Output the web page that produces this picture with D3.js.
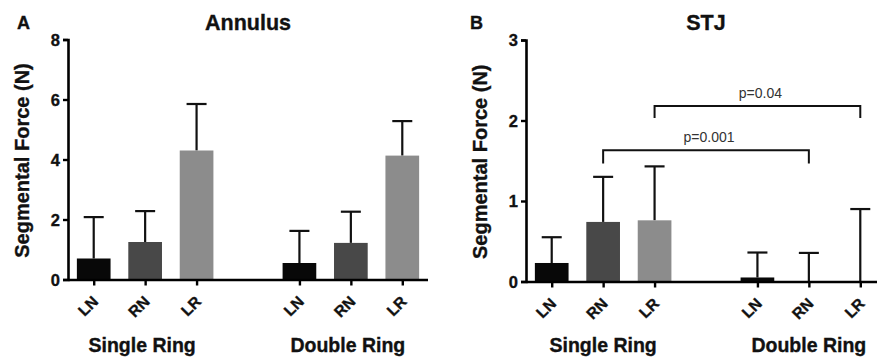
<!DOCTYPE html>
<html>
<head>
<meta charset="utf-8">
<script src="https://cdn.jsdelivr.net/npm/d3@7"></script>
<style>
  html, body { margin: 0; padding: 0; background: #fff; }
  svg text { font-family: "Liberation Sans", Arial, Helvetica, sans-serif; }
  svg text.heavy { stroke: #111; stroke-width: 0.35px; }
</style>
</head>
<body>
<svg id="chart" width="877" height="362"></svg>
<script>
// ---- data ----
const categories = ["LN", "RN", "LR"];
const groups = ["Single Ring", "Double Ring"];
const barColors = ["#080808", "#484848", "#8c8c8c"];

const annulusMean = [0.70, 1.25, 4.30, 0.55, 1.22, 4.13];
const annulusErr  = [1.38, 1.03, 1.55, 1.07, 1.04, 1.15];
const annulusTicks = [0, 2, 4, 6, 8];

const stjMean = [0.23, 0.74, 0.76, 0.05, 0.0, 0.0];
const stjErr  = [0.32, 0.56, 0.67, 0.31, 0.355, 0.90];
const stjTicks = [0, 1, 2, 3];

const stjBrackets = [
  { from: 1, to: 4, level: 1.63, drop: 0.165, label: "p=0.001" },
  { from: 2, to: 5, level: 2.18, drop: 0.15,  label: "p=0.04" }
];

const yTitle = "Segmental Force (N)";

// ---- drawing ----
const svg = d3.select("#chart");

function drawPanel(cfg) {
  const g = svg.append("g");
  const slots = [];
  groups.forEach((gr, gi) => {
    categories.forEach(c => slots.push(gr + "|" + c));
    if (gi === 0) slots.push("gap");
  });
  const x = d3.scalePoint().domain(slots).range([cfg.x0, cfg.x0 + 360]).padding(0.5);
  const y = d3.scaleLinear().domain([0, cfg.ticks[cfg.ticks.length - 1]]).range([cfg.yBottom, cfg.yTop]);
  const barW = x.step() * 0.655;

  const bars = [];
  groups.forEach((gr, gi) => categories.forEach((c, ci) => {
    const i = gi * 3 + ci;
    bars.push({ key: gr + "|" + c, cat: c, ci, mean: cfg.mean[i], err: cfg.err[i] });
  }));

  const capW = 20;
  g.selectAll("line.err").data(bars).join("line")
    .attr("x1", d => x(d.key)).attr("x2", d => x(d.key))
    .attr("y1", d => y(d.mean)).attr("y2", d => y(d.mean + d.err))
    .attr("stroke", "#111").attr("stroke-width", 2.2);
  g.selectAll("line.cap").data(bars).join("line")
    .attr("x1", d => x(d.key) - capW / 2).attr("x2", d => x(d.key) + capW / 2)
    .attr("y1", d => y(d.mean + d.err)).attr("y2", d => y(d.mean + d.err))
    .attr("stroke", "#111").attr("stroke-width", 2.2);

  g.selectAll("rect.bar").data(bars).join("rect")
    .attr("x", d => x(d.key) - barW / 2)
    .attr("width", barW)
    .attr("y", d => y(d.mean))
    .attr("height", d => y(0) - y(d.mean))
    .attr("fill", d => barColors[d.ci]);

  // y axis
  const yAxis = d3.axisLeft(y).tickValues(cfg.ticks).tickSize(5).tickPadding(3).tickFormat(d3.format("d"));
  const ya = g.append("g").attr("transform", `translate(${cfg.x0},0)`).call(yAxis);
  ya.select(".domain").attr("stroke", "#000").attr("stroke-width", 2.6);
  ya.selectAll(".tick line").attr("stroke", "#000").attr("stroke-width", 2.4);
  ya.selectAll(".tick text").attr("class", "heavy").attr("fill", "#111")
    .attr("font-size", 16.5).attr("font-weight", "bold").attr("dy", "0.36em");

  // x axis
  const xAxis = d3.axisBottom(x).tickValues(bars.map(b => b.key)).tickSize(6).tickSizeOuter(0)
    .tickFormat(k => k.split("|")[1]);
  const xa = g.append("g").attr("transform", `translate(0,${cfg.yBottom})`).call(xAxis);
  xa.select(".domain").attr("stroke", "#000").attr("stroke-width", 2.6)
    .attr("d", `M${cfg.x0},0.5H${cfg.x0 + 360}`);
  xa.selectAll(".tick line").attr("stroke", "#000").attr("stroke-width", 2.4);
  xa.selectAll(".tick text").attr("class", "heavy")
    .attr("fill", "#111").attr("font-size", 15.5).attr("font-weight", "bold")
    .attr("text-anchor", "end")
    .attr("dy", null).attr("y", 0)
    .attr("transform", "translate(5,23) rotate(-45)");

  // group labels
  groups.forEach(gr => {
    g.append("text").attr("class", "heavy")
      .attr("x", x(gr + "|RN") - cfg.groupShift)
      .attr("y", 352)
      .attr("text-anchor", "middle")
      .attr("font-size", 19.5).attr("font-weight", "bold").attr("fill", "#111")
      .text(gr);
  });

  // title
  g.append("text").attr("class", "heavy").attr("x", cfg.x0 + 180).attr("y", 29.5)
    .attr("text-anchor", "middle").attr("font-size", 21.5).attr("font-weight", "bold").attr("fill", "#111")
    .text(cfg.title);
  // panel letter
  g.append("text").attr("class", "heavy").attr("x", cfg.letterX).attr("y", 29)
    .attr("font-size", 18).attr("font-weight", "bold").attr("fill", "#111")
    .text(cfg.letter);

  // y title
  g.append("text").attr("class", "heavy")
    .attr("transform", `translate(${cfg.x0 - 39.5},${(cfg.yTop + cfg.yBottom) / 2 + 1}) rotate(-90)`)
    .attr("text-anchor", "middle").attr("font-size", 20).attr("font-weight", "bold").attr("fill", "#111")
    .text(yTitle);

  // significance brackets
  (cfg.brackets || []).forEach(b => {
    const x1 = x(bars[b.from].key), x2 = x(bars[b.to].key);
    g.append("path")
      .attr("d", `M${x1},${y(b.level - b.drop)}V${y(b.level)}H${x2}V${y(b.level - b.drop)}`)
      .attr("fill", "none").attr("stroke", "#111").attr("stroke-width", 2);
    g.append("text")
      .attr("x", (x1 + x2) / 2 + 3).attr("y", y(b.level) - 8)
      .attr("text-anchor", "middle").attr("font-size", 14).attr("fill", "#333")
      .text(b.label);
  });
}

drawPanel({ x0: 68, yTop: 39.5, yBottom: 279.5, ticks: annulusTicks, mean: annulusMean, err: annulusErr,
  title: "Annulus", letter: "A", letterX: 17, groupShift: 3 });
drawPanel({ x0: 526, yTop: 40, yBottom: 281.5, ticks: stjTicks, mean: stjMean, err: stjErr,
  title: "STJ", letter: "B", letterX: 470, groupShift: 0, brackets: stjBrackets });
</script>
</body>
</html>
